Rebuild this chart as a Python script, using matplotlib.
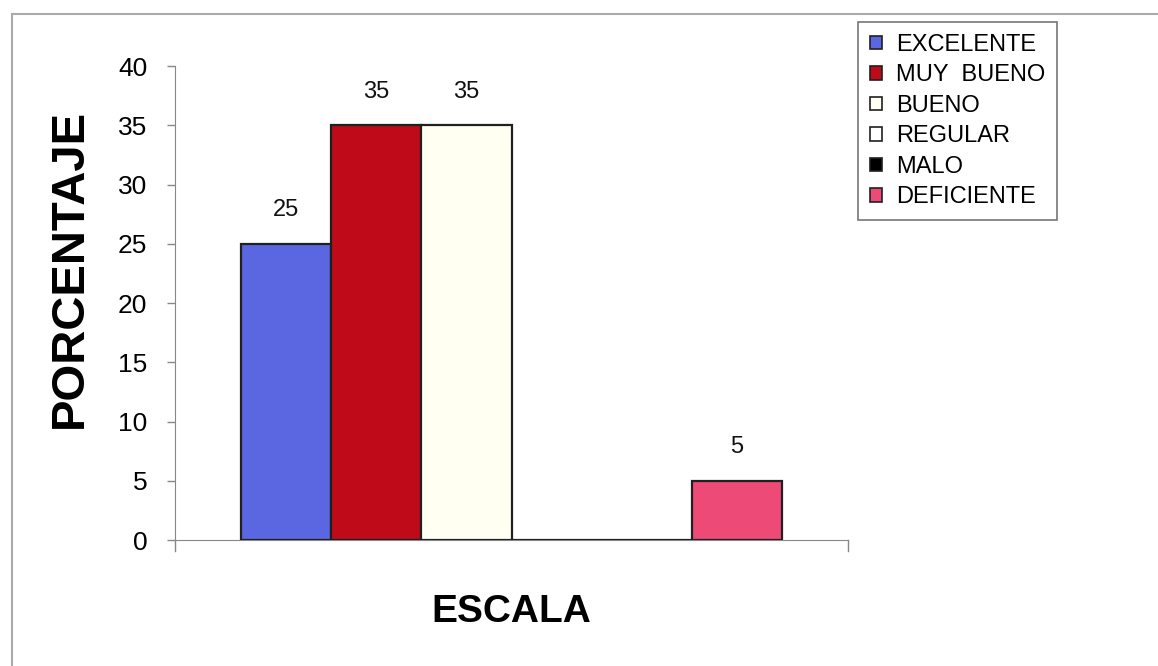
import matplotlib
matplotlib.use("Agg")
import matplotlib.pyplot as plt
from matplotlib.patches import Patch
from matplotlib.lines import Line2D

categories = ["EXCELENTE", "MUY  BUENO", "BUENO", "REGULAR", "MALO", "DEFICIENTE"]
values = [25, 35, 35, 0, 0, 5]
colors = ["#5a67e0", "#bf0a1a", "#fffff2", "#ffffff", "#000000", "#ee4a78"]
yticks = [0, 5, 10, 15, 20, 25, 30, 35, 40]

plt.rcParams['font.family'] = ['Liberation Sans', 'DejaVu Sans']

W, H = 1158, 666
fig = plt.figure(figsize=(W / 100, H / 100), dpi=100)
ax = fig.add_axes([175 / W, 1 - 540 / H, (848 - 175) / W, (540 - 66) / H])

positions = list(range(len(categories)))
bars = ax.bar(positions, values, width=1.0, color=colors, edgecolor="#202020",
              linewidth=1.6, zorder=3)
for pos, v in zip(positions, values):
    if v > 0:
        ax.text(pos, v + 1.9, str(v), ha="center", va="bottom", fontsize=17,
                color="#111111")

gap = 66 / 90
ax.set_xlim(-0.5 - gap, len(categories) - 0.5 + gap)
ax.set_ylim(0, 40)
ax.set_yticks(yticks)
ax.set_yticklabels([str(t) for t in yticks], fontsize=19)
ax.set_xticks([])
ax.tick_params(axis="y", direction="out", length=6, width=1, color="#888888", pad=14)

for s in ["top", "right"]:
    ax.spines[s].set_visible(False)
ax.spines["left"].set_color("#888888")
ax.spines["bottom"].set_color("#888888")
ax.spines["left"].set_bounds(0, 40)

# end ticks on the category axis
for xx in ax.get_xlim():
    ax.plot([xx, xx], [0, -0.9], color="#888888", lw=1, clip_on=False,
            transform=ax.transData)

fig.text(70 / W, 1 - 268 / H, "PORCENTAJE", rotation=90, fontsize=34,
         fontweight="bold", ha="center", va="center")
fig.text(511 / W, 1 - 612 / H, "ESCALA", fontsize=28,
         fontweight="bold", ha="center", va="center")

handles = [Patch(facecolor=c, edgecolor="#202020", linewidth=1.2) for c in colors]
leg = fig.legend(handles, categories, loc="upper left",
                 bbox_to_anchor=(858 / W, 1 - 22 / H), fontsize=17,
                 frameon=True, fancybox=False, edgecolor="#555555",
                 handlelength=0.5, handleheight=0.5, handletextpad=0.6,
                 labelspacing=0.36, borderpad=0.5, borderaxespad=0)
leg.get_frame().set_linewidth(1.2)

# outer chart-area frame
fig.add_artist(Line2D([12 / W, 12 / W], [0, 1 - 14 / H], transform=fig.transFigure,
                      color="#aaaaaa", lw=1.5))
fig.add_artist(Line2D([12 / W, 1], [1 - 14 / H, 1 - 14 / H], transform=fig.transFigure,
                      color="#aaaaaa", lw=1.5))

fig.savefig("out.png", dpi=100)
